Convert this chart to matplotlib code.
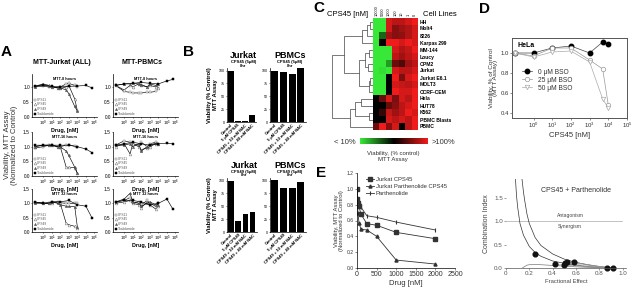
import numpy as np
import matplotlib
matplotlib.use("Agg")
import matplotlib.pyplot as plt
from matplotlib.colors import LinearSegmentedColormap, Normalize
from matplotlib.lines import Line2D
import matplotlib.cm as cm

plt.rcParams['font.family'] = ['Liberation Sans', 'DejaVu Sans']
plt.rcParams['axes.linewidth'] = 0.5
plt.rcParams['axes.facecolor'] = 'none'
plt.rcParams['xtick.major.width'] = 0.4
plt.rcParams['ytick.major.width'] = 0.4
plt.rcParams['xtick.major.size'] = 1.2
plt.rcParams['ytick.major.size'] = 1.2
plt.rcParams['xtick.major.pad'] = 0.8
plt.rcParams['ytick.major.pad'] = 0.8
plt.rcParams['mathtext.fontset'] = 'custom'
plt.rcParams['mathtext.rm'] = 'Liberation Sans'
plt.rcParams['mathtext.it'] = 'Liberation Sans:italic'
plt.rcParams['mathtext.bf'] = 'Liberation Sans:bold'

W, H = 640, 290
fig = plt.figure(figsize=(6.4, 2.9), dpi=100)


def px_axes(x0, y0, x1, y1):
    return fig.add_axes([x0 / W, 1 - y1 / H, (x1 - x0) / W, (y1 - y0) / H])


def ftext(x, y, s, **kw):
    kw.setdefault('ha', 'center')
    kw.setdefault('va', 'center')
    fig.text(x / W, 1 - y / H, s, **kw)

# ---------------------------------------------------------------- data A
conc_cps = [0.1, 1, 5, 10, 50, 100, 500, 1000, 5000, 10000]
conc_thal = [0.1, 1, 10, 100, 1000, 10000, 100000, 500000]
a_series = ['CPS11', 'CPS45', 'CPS49', 'Thalidomide']
a_titles_col = ['MTT-Jurkat (ALL)', 'MTT-PBMCs']
a_titles_row = ['MTT-8 hours', 'MTT-16 hours', 'MTT 32 hours']

jurkat_8h = {
    'CPS11': [1.0, 1.02, 1.0, 1.0, 0.98, 1.0, 1.1, 1.12, 1.05, 1.0],
    'CPS45': [1.02, 1.1, 1.05, 1.0, 0.97, 0.95, 1.0, 1.05, 0.6, 0.22],
    'CPS49': [1.0, 1.08, 1.03, 1.0, 0.98, 0.97, 0.9, 0.78, 0.35, 0.2],
    'Thalidomide': [1.03, 1.05, 1.02, 1.0, 1.02, 1.03, 1.05, 0.97],
}
jurkat_16h = {
    'CPS11': [0.95, 1.0, 1.05, 1.05, 1.0, 1.0, 1.05, 1.05, 1.02, 1.0],
    'CPS45': [1.0, 1.05, 1.05, 1.05, 1.0, 1.0, 0.3, 0.3, 0.28, 0.1],
    'CPS49': [1.0, 1.05, 1.05, 1.05, 1.0, 1.0, 0.85, 0.7, 0.3, 0.1],
    'Thalidomide': [1.05, 1.05, 1.05, 1.05, 1.05, 1.0, 0.92, 0.8],
}
jurkat_32h = {
    'CPS11': [1.02, 1.0, 1.0, 1.05, 1.05, 1.02, 1.0, 1.0, 1.0, 1.02],
    'CPS45': [1.05, 1.0, 1.0, 1.0, 1.05, 1.0, 0.3, 0.25, 0.2, 0.15],
    'CPS49': [1.0, 1.02, 1.0, 1.05, 1.0, 0.95, 0.9, 0.9, 0.88, 0.18],
    'Thalidomide': [1.05, 1.0, 1.05, 1.05, 1.1, 0.95, 0.9, 0.5],
}
pbmc_8h = {
    'CPS11': [1.05, 0.85, 0.82, 0.8, 0.8, 0.8, 0.82, 0.82, 0.85, 0.95],
    'CPS45': [1.05, 0.9, 1.05, 1.0, 1.1, 1.05, 1.0, 1.05, 1.0, 0.95],
    'CPS49': [1.05, 1.1, 1.1, 1.12, 1.1, 1.08, 1.0, 1.1, 1.05, 1.1],
    'Thalidomide': [1.05, 1.1, 1.12, 1.15, 1.12, 1.1, 1.2, 1.25],
}
pbmc_16h = {
    'CPS11': [1.05, 1.2, 1.15, 1.1, 1.05, 1.15, 1.0, 1.1, 1.15, 1.1],
    'CPS45': [1.0, 1.1, 0.75, 1.1, 1.0, 0.9, 0.95, 1.0, 1.1, 1.1],
    'CPS49': [1.05, 1.05, 1.1, 1.0, 1.1, 0.85, 1.0, 1.05, 1.12, 1.1],
    'Thalidomide': [1.05, 1.1, 1.15, 1.1, 1.05, 1.1, 1.12, 1.1],
}
pbmc_32h = {
    'CPS11': [1.05, 1.1, 1.2, 1.0, 1.05, 0.95, 1.1, 1.0, 0.9, 1.0],
    'CPS45': [1.0, 1.05, 1.1, 1.0, 0.95, 0.85, 1.05, 0.95, 0.8, 0.9],
    'CPS49': [1.05, 1.15, 1.35, 1.05, 1.0, 0.9, 1.0, 1.05, 0.95, 0.95],
    'Thalidomide': [1.05, 1.1, 1.1, 1.05, 0.95, 1.0, 1.15, 0.8],
}
a_grid = [[jurkat_8h, pbmc_8h], [jurkat_16h, pbmc_16h], [jurkat_32h, pbmc_32h]]

# ---------------------------------------------------------------- data B
b_labels = ['Control', '5 \u03bcM CPS45', 'CPS45 + 10 mM NAC', 'CPS45 + 40 mM NAC']
b_labels49 = ['Control', '5 \u03bcM CPS49', 'CPS49 + 10 mM NAC', 'CPS49 + 40 mM NAC']
b_jurkat_45 = [100, 2, 2, 14]
b_pbmc_45 = [100, 97, 94, 105]
b_jurkat_49 = [100, 22, 35, 39]
b_pbmc_49 = [102, 85, 85, 97]

# ---------------------------------------------------------------- data C
c_cols = ['10000', '5000', '1000', '100', '10', '1', '0']
c_rows = ['HH', 'Molt4', '8226', 'Karpas 299', 'MM-144', 'Loucy', 'OPM2', 'Jurkat',
          'Jurkat E6.1', 'MOLT3', 'CCRF-CEM', 'Hela', 'HUT78', 'K562', 'PBMC Blasts', 'PBMC']
c_values = [
    [5, 5, 95, 90, 90, 95, 100],
    [5, 5, 95, 80, 85, 88, 95],
    [5, 35, 85, 80, 82, 88, 95],
    [5, 55, 100, 100, 95, 100, 95],
    [5, 5, 5, 95, 88, 92, 100],
    [5, 5, 5, 90, 85, 90, 95],
    [5, 5, 25, 75, 70, 85, 90],
    [5, 12, 8, 95, 90, 90, 95],
    [5, 5, 55, 100, 78, 95, 100],
    [5, 5, 55, 95, 92, 90, 95],
    [5, 5, 55, 100, 95, 95, 100],
    [55, 75, 95, 78, 95, 90, 100],
    [55, 55, 75, 80, 90, 95, 100],
    [55, 65, 92, 85, 90, 100, 95],
    [55, 55, 95, 90, 95, 90, 100],
    [75, 100, 80, 95, 55, 90, 100],
]
# dendrogram merges: (child_a, child_b, height); leaves 0..15, new ids from 16
c_merges = [
    (0, 1, 0.07),     # 16
    (16, 2, 0.15),    # 17
    (17, 3, 0.27),    # 18
    (4, 5, 0.10),     # 19
    (6, 7, 0.12),     # 20
    (19, 20, 0.20),   # 21
    (8, 9, 0.07),     # 22
    (22, 10, 0.10),   # 23
    (21, 23, 0.35),   # 24
    (18, 24, 0.70),   # 25
    (11, 12, 0.30),   # 26
    (13, 14, 0.10),   # 27
    (26, 27, 0.43),   # 28
    (28, 15, 0.55),   # 29
    (25, 29, 1.00),   # 30
]

# ---------------------------------------------------------------- data D
d_conc = [0.1, 1, 10, 100, 1000, 5000, 10000]
d_bso0 = [1.0, 1.0, 1.05, 1.07, 1.0, 1.11, 1.09]
d_bso25 = [1.0, 0.97, 1.05, 1.05, 0.93, 0.84, 0.48]
d_bso50 = [1.0, 0.96, 1.01, 1.02, 0.91, 0.54, 0.45]

# combination index
ci_fa = [0.25, 0.42, 0.50, 0.51, 0.52, 0.58, 0.87, 0.92]
ci_val = [0.29, 0.08, 0.06, 0.10, 0.13, 0.12, 0.01, 0.0]
ci_curve1_fa = [0.08, 0.09, 0.10, 0.12, 0.15, 0.20, 0.25, 0.30, 0.40, 0.50, 0.60, 0.70, 0.80, 0.90]
ci_curve1 = [1.95, 1.55, 1.30, 0.95, 0.70, 0.46, 0.33, 0.25, 0.15, 0.10, 0.06, 0.03, 0.012, 0.004]
ci_curve2_fa = [0.135, 0.15, 0.16, 0.18, 0.20, 0.25, 0.30, 0.40, 0.50, 0.60, 0.70, 0.80, 0.90]
ci_curve2 = [1.95, 1.62, 1.45, 1.15, 0.95, 0.65, 0.48, 0.30, 0.19, 0.12, 0.07, 0.03, 0.01]
ci_curve3_fa = [0.14, 0.16, 0.18, 0.20, 0.25, 0.30, 0.40, 0.50, 0.60, 0.70, 0.80, 0.90]
ci_curve3 = [0.0, 0.03, 0.06, 0.07, 0.075, 0.07, 0.055, 0.04, 0.025, 0.015, 0.008, 0.0]

# ---------------------------------------------------------------- data E
e_conc = [0, 10, 25, 50, 100, 250, 500, 1000, 2000]
e_cps45 = [1.0, 0.87, 0.82, 0.78, 0.68, 0.56, 0.54, 0.45, 0.37]
e_combo = [1.0, 0.80, 0.70, 0.57, 0.49, 0.48, 0.40, 0.10, 0.05]
e_parth = [1.0, 0.90, 0.85, 0.80, 0.77, 0.66, 0.64, 0.58, 0.48]

# ================================================================ panel A
ftext(6, 52, 'A', fontsize=11, fontweight='bold')
ftext(62, 62, a_titles_col[0], fontsize=5, fontweight='bold')
ftext(142, 63, a_titles_col[1], fontsize=5, fontweight='bold')
ftext(8, 145, 'Viability, MTT Assay', fontsize=5.5, rotation=90, color='#333333')
ftext(15, 145, '(Normalized to Control)', fontsize=5.5, rotation=90, color='#333333')

a_style = {
    'CPS11': dict(marker='s', mfc='white', mec='#777777', ms=2.0),
    'CPS45': dict(marker='^', mfc='white', mec='#777777', ms=2.0),
    'CPS49': dict(marker='^', mfc='#555555', mec='#555555', ms=1.6),
    'Thalidomide': dict(marker='s', mfc='black', mec='black', ms=2.0),
}
row_y = [(74, 117), (132, 176), (189, 232)]
col_x = [(32, 97), (113, 178)]
for r, (yt, yb) in enumerate(row_y):
    for c, (xl, xr) in enumerate(col_x):
        ax = px_axes(xl, yt, xr, yb)
        ax.patch.set_visible(False)
        data = a_grid[r][c]
        for name in a_series:
            xs = conc_thal if name == 'Thalidomide' else conc_cps
            ax.plot(xs, data[name], color='black', lw=0.45, mew=0.35, **a_style[name])
        ax.set_xscale('log')
        ax.set_xlim(10 ** -1.3, 10 ** 6.3)
        if r == 0:
            ax.set_ylim(0, 1.43)
            ax.set_yticks([0, 0.5, 1.0])
        else:
            ax.set_ylim(0, 1.5)
            ax.set_yticks([0, 0.5, 1.0, 1.5])
        ax.set_xticks([10 ** k for k in range(7)])
        ax.set_xticklabels(['$10^{%d}$' % k for k in range(7)])
        ax.xaxis.set_minor_locator(matplotlib.ticker.NullLocator())
        ax.tick_params(axis='x', labelsize=3.1, length=1.0, pad=0.3)
        ax.tick_params(axis='y', labelsize=3.4, length=1.0, pad=0.5)
        for s in ['top', 'right']:
            ax.spines[s].set_visible(False)
        ax.set_xlabel('Drug, [nM]', fontsize=3.9, fontweight='bold', labelpad=0.1)
        ax.text(0.5, 0.88, a_titles_row[r], transform=ax.transAxes, fontsize=2.8,
                ha='center', va='center', fontweight='bold')
        handles = [Line2D([], [], ls='none', **a_style[n], mew=0.35) for n in a_series]
        ax.legend(handles, a_series, loc='lower left', fontsize=2.3, frameon=False,
                  handlelength=0.8, handletextpad=0.4, borderpad=0.2, labelspacing=0.2,
                  borderaxespad=0.2, labelcolor='#555555')

# ================================================================ panel B
ftext(189, 52, 'B', fontsize=11, fontweight='bold')
b_axes = [
    ((227, 68, 256, 122), b_jurkat_45, 'Jurkat', 'CPS45 (5\u03bcM)', b_labels, True),
    ((270, 68, 306, 122), b_pbmc_45, 'PBMCs', 'CPS45 (5\u03bcM)', b_labels, False),
    ((227, 178, 257, 232), b_jurkat_49, 'Jurkat', 'CPS49 (5\u03bcM)', b_labels49, True),
    ((270, 178, 306, 232), b_pbmc_49, 'PBMCs', 'CPS49 (5\u03bcM)', b_labels49, False),
]
for (x0, y0, x1, y1), vals, ttl, sub, labs, ylab in b_axes:
    ax = px_axes(x0, y0, x1, y1)
    ax.bar(range(len(vals)), vals, width=0.78, color='black')
    ax.set_xlim(-0.55, len(vals) - 0.4)
    ax.set_ylim(0, 105)
    ax.set_yticks([0, 25, 50, 75, 100])
    ax.set_xticks(range(len(vals)))
    ax.set_xticklabels(labs, rotation=45, ha='right', rotation_mode='anchor', fontsize=2.9,
                       fontweight='bold')
    ax.tick_params(axis='y', labelsize=2.6, length=1.0, pad=0.4)
    ax.tick_params(axis='x', length=0, pad=1.0)
    for s in ['top', 'right']:
        ax.spines[s].set_visible(False)
    cx = (x0 + x1) / 2 + 2
    ftext(cx, y0 - 13, ttl, fontsize=6.5, fontweight='bold')
    ftext(cx, y0 - 6.5, sub, fontsize=3.0, fontweight='bold')
    ftext(cx, y0 - 2.5, '8hr', fontsize=3.0, fontweight='bold')
    if ylab:
        ftext(209, (y0 + y1) / 2, 'Viability (% Control)', fontsize=4.2, rotation=90,
              fontweight='bold')
        ftext(215.5, (y0 + y1) / 2, 'MTT Assay', fontsize=4.2, rotation=90, fontweight='bold')

# ================================================================ panel C
ftext(319, 8, 'C', fontsize=11, fontweight='bold')
ftext(348, 15, 'CPS45 [nM]', fontsize=5.5)
ftext(440, 15, 'Cell Lines', fontsize=5.5)
cmap = LinearSegmentedColormap.from_list('gbr', ['#38e838', '#000000', '#f01c1c'])
norm = Normalize(vmin=10, vmax=100)
axh = px_axes(373, 18, 418, 130)
axh.imshow(np.array(c_values), cmap=cmap, norm=norm, aspect='auto', interpolation='nearest')
axh.set_xticks(range(len(c_cols)))
axh.set_xticklabels(c_cols, rotation=90, fontsize=2.8)
axh.xaxis.tick_top()
axh.set_yticks(range(len(c_rows)))
axh.set_yticklabels(c_rows, fontsize=3.6, fontweight='bold')
axh.yaxis.tick_right()
axh.tick_params(length=0, pad=1.5)
for s in axh.spines.values():
    s.set_visible(False)

axd = px_axes(331, 18, 373, 130)
pos = {i: (0.0, i) for i in range(len(c_rows))}
nid = len(c_rows)
for a, b, h in c_merges:
    xa, ya = pos[a]
    xb, yb = pos[b]
    axd.plot([xa, h, h, xb], [ya, ya, yb, yb], color='#555555', lw=0.55)
    pos[nid] = (h, (ya + yb) / 2)
    nid += 1
axd.set_xlim(1.02, 0)
axd.set_ylim(len(c_rows) - 0.5, -0.5)
axd.axis('off')

axcb = px_axes(360, 138, 428, 144)
cb = fig.colorbar(cm.ScalarMappable(norm=norm, cmap=cmap), cax=axcb, orientation='horizontal')
cb.set_ticks([])
cb.outline.set_visible(False)
ftext(345, 142, '< 10%', fontsize=5.5, color='#333333')
ftext(443, 142, '>100%', fontsize=5.5, color='#333333')
ftext(393, 154, 'Viability, (% control)', fontsize=4.3, color='#333333')
ftext(393, 160, 'MTT Assay', fontsize=4.3, color='#333333')

# ================================================================ panel D
ftext(484, 9, 'D', fontsize=11, fontweight='bold')
axD = px_axes(512, 38, 627, 118)
axD.plot(d_conc, d_bso0, color='#444444', lw=0.5, marker='o', ms=3.2, mfc='black',
         mec='black', label='0 \u03bcM BSO')
axD.plot(d_conc, d_bso25, color='#999999', lw=0.5, marker='o', ms=3.2, mfc='white',
         mec='#999999', mew=0.5, label='25 \u03bcM BSO')
axD.plot(d_conc, d_bso50, color='#aaaaaa', lw=0.5, marker='v', ms=3.2, mfc='white',
         mec='#aaaaaa', mew=0.5, label='50 \u03bcM BSO')
axD.set_xscale('log')
axD.set_xlim(10 ** -1.15, 10 ** 5.0)
axD.set_ylim(0.35, 1.15)
axD.set_yticks([0.4, 0.6, 0.8, 1.0])
axD.set_xticks([10 ** k for k in range(6)])
axD.set_xticklabels(['$10^{%d}$' % k for k in range(6)])
axD.xaxis.set_minor_locator(matplotlib.ticker.NullLocator())
axD.tick_params(labelsize=4.3, length=1.5, colors='#333333')
for s in axD.spines.values():
    s.set_color('#555555')
    s.set_linewidth(0.7)
axD.set_xlabel('CPS45 [nM]', fontsize=5.5, labelpad=1, color='#333333')
axD.set_ylabel('Viability, % of Control\n(MTT Assay)', fontsize=4.6, labelpad=1.5,
               color='#333333', linespacing=0.95)
axD.text(0.05, 0.95, 'HeLa', transform=axD.transAxes, fontsize=5, fontweight='bold',
         va='top', ha='left')
axD.legend(loc='lower left', bbox_to_anchor=(0.05, 0.28), fontsize=4.8, frameon=False,
           handlelength=1.6, handletextpad=0.8, labelspacing=0.15, borderpad=0.1,
           labelcolor='#333333')

axC = px_axes(506, 179, 626, 268)
axC.axhline(1.0, xmin=0, xmax=0.97, color='#aaaaaa', lw=0.5)
axC.plot(ci_curve1_fa, ci_curve1, color='#333333', lw=0.5)
axC.plot(ci_curve2_fa, ci_curve2, color='#333333', lw=0.5)
axC.plot(ci_curve3_fa, ci_curve3, color='#777777', lw=0.5)
for fa, v in zip(ci_fa[1:6], ci_val[1:6]):
    axC.plot([fa, 0.9], [v, 0.0], color='#999999', lw=0.35)
axC.plot(ci_fa, ci_val, ls='none', marker='o', ms=3.4, color='#111111', clip_on=False)
axC.set_xlim(0, 1.03)
axC.set_ylim(0, 1.9)
axC.set_xticks([0, 0.2, 0.4, 0.6, 0.8, 1.0])
axC.set_xticklabels(['0', '0.2', '0.4', '0.6', '0.8', '1.0'])
axC.set_yticks([0, 0.5, 1.0, 1.5])
axC.set_yticklabels(['0.0', '0.5', '1.0', '1.5'])
axC.tick_params(labelsize=4.5, length=1.5, colors='#555555')
for s in ['top', 'right', 'left']:
    axC.spines[s].set_visible(False)
axC.spines['bottom'].set_color('#555555')
axC.set_xlabel('Fractional Effect', fontsize=4.2, color='#444444', labelpad=2)
axC.set_ylabel('Combination Index', fontsize=5, color='#444444', labelpad=3)
axC.text(0.6, 1.62, 'CPS45 + Parthenolide', fontsize=5, color='#333333', ha='center')
axC.text(0.55, 1.06, 'Antagonism', fontsize=3.6, color='#444444', ha='center', va='bottom')
axC.text(0.55, 0.93, 'Synergism', fontsize=3.6, color='#444444', ha='center', va='top')

# ================================================================ panel E
ftext(321, 173, 'E', fontsize=11, fontweight='bold')
axE = px_axes(357, 173, 455, 268)
axE.plot(e_conc, e_cps45, color='#333333', lw=0.6, marker='s', ms=2.2, label='Jurkat CPS45')
axE.plot(e_conc, e_combo, color='#333333', lw=0.6, marker='^', ms=2.2,
         label='Jurkat Parthenolide CPS45')
axE.plot(e_conc, e_parth, color='#333333', lw=0.6, marker='|', ms=2.6, mew=0.8,
         label='Parthenolide')
axE.set_xlim(0, 2500)
axE.set_ylim(0, 1.2)
axE.set_xticks([0, 500, 1000, 1500, 2000, 2500])
axE.set_yticks([0, 0.2, 0.4, 0.6, 0.8, 1.0, 1.2])
axE.set_yticklabels(['0.0', '0.2', '0.4', '0.6', '0.8', '1.0', '1.2'])
axE.tick_params(axis='x', labelsize=5, length=1.5, colors='#333333')
axE.tick_params(axis='y', labelsize=3.6, length=1.5, colors='#333333')
for s in ['top', 'right']:
    axE.spines[s].set_visible(False)
axE.set_xlabel('Drug [nM]', fontsize=5.5, color='#333333', labelpad=1)
axE.set_ylabel('Viability, MTT Assay\n(Normalized to Control)', fontsize=4.2,
               color='#333333', labelpad=2, linespacing=0.95)
axE.legend(loc='upper left', bbox_to_anchor=(0.05, 1.0), fontsize=4.2, frameon=False,
           handlelength=1.4, handletextpad=0.3, labelspacing=0.3, borderpad=0.2,
           labelcolor='#333333')

fig.savefig('out.png', dpi=100, facecolor='white')
